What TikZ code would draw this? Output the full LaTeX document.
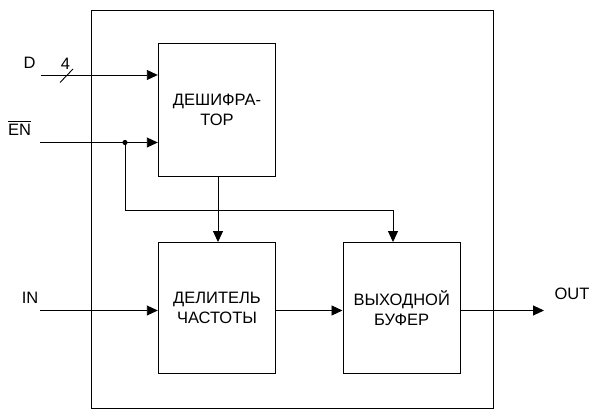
\documentclass[tikz,border=0pt]{standalone}
\usepackage{fontspec}
\setmainfont{Liberation Sans}
\usetikzlibrary{arrows.meta,positioning,calc}
\newcommand{\barred}[1]{\vbox{\hrule height 0.9pt\kern 2.2pt\hbox{#1}}}
\tikzset{
  blk/.style={
    draw=black, line width=0.9pt, align=center, inner sep=0pt,
    minimum width=117.5pt, minimum height=131pt,
    font=\fontsize{16.5}{20}\selectfont
  },
  frame/.style={draw=black, line width=0.9pt},
  arr/.style={-{Triangle[length=11pt,width=10pt]}, draw=black, line width=0.9pt},
  wire/.style={draw=black, line width=0.9pt},
  lbl/.style={font=\fontsize{16.5}{18}\selectfont, inner sep=0pt},
  every picture/.append style={x=1pt, y=-1pt, line join=miter}
}

\begin{document}
\begin{tikzpicture}
  \useasboundingbox (0,0) rectangle (592,411);
  \draw[frame] (91.7,10) rectangle (493,408);
  \node[blk, minimum height=133pt] (dec) at (217,109.5) {ДЕШИФРА-\\ТОР};
  \node[blk] (div) at (217,308) {ДЕЛИТЕЛЬ\\ЧАСТОТЫ};
  \node[blk] (buf) at (401.7,308) {ВЫХОДНОЙ\\БУФЕР};
  \coordinate (din) at (40.5,75);
  \coordinate (enin) at (40,142.5);
  \coordinate (inin) at (40,310.5);
  \coordinate (out) at (544,310.5);
  \coordinate (tap) at (125,142.5);
  \node[lbl] (dlbl) at (29.5,63) {D};
  \node[lbl] (width) at (65.5,64) {4};
  \node[lbl] (enlbl) at (19.5,128) {\barred{EN}};
  \node[lbl] (inlbl) at (30,298) {IN};
  \node[lbl] (outlbl) at (572,294) {OUT};
  \draw[arr] (din) -- (din -| dec.west);
  \draw[wire] (60,82.5) -- (73,69);
  \draw[arr] (enin) -- (enin -| dec.west);
  \fill (tap) circle (2.6pt);
  \draw[arr] (tap) -- (125,210) -| (buf.north -| 393,0);
  \draw[arr] (dec.south -| 218,0) -- (div.north -| 218,0);
  \draw[arr] (inin) -- (inin -| div.west);
  \draw[arr] (inin -| div.east) -- (inin -| buf.west);
  \draw[arr] (inin -| buf.east) -- (out);
\end{tikzpicture}
\end{document}
